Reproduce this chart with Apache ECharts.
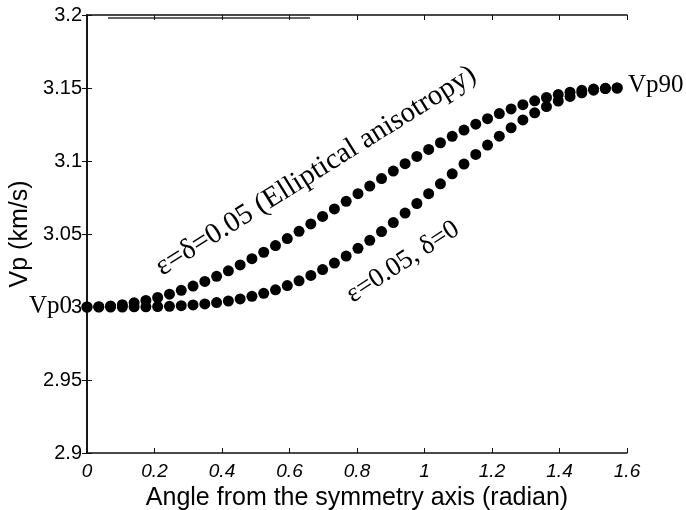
<!DOCTYPE html>
<html>
<head>
<meta charset="utf-8">
<script src="https://cdn.jsdelivr.net/npm/echarts@6/dist/echarts.min.js"></script>
<style>
  html, body { margin: 0; padding: 0; background: #fff; }
  #chart { width: 686px; height: 510px; }
</style>
</head>
<body>
<div id="chart"></div>
<script>
// Incidence angle (radian), sampled every 2 degrees from 0 to 90
const angles = [
  0, 0.0349, 0.0698, 0.1047, 0.1396, 0.1745, 0.2094, 0.2443, 0.2793, 0.3142,
  0.3491, 0.3840, 0.4189, 0.4538, 0.4887, 0.5236, 0.5585, 0.5934, 0.6283, 0.6632,
  0.6981, 0.7330, 0.7679, 0.8029, 0.8378, 0.8727, 0.9076, 0.9425, 0.9774, 1.0123,
  1.0472, 1.0821, 1.1170, 1.1519, 1.1868, 1.2217, 1.2566, 1.2915, 1.3265, 1.3614,
  1.3963, 1.4312, 1.4661, 1.5010, 1.5359, 1.5708
];

// P-wave velocity (km/s), elliptical case: epsilon = delta = 0.05
const vpElliptical = [
  3.0000, 3.0002, 3.0007, 3.0016, 3.0029, 3.0045, 3.0065, 3.0088, 3.0114, 3.0143,
  3.0175, 3.0210, 3.0248, 3.0288, 3.0331, 3.0375, 3.0421, 3.0469, 3.0518, 3.0569,
  3.0620, 3.0672, 3.0724, 3.0776, 3.0828, 3.0880, 3.0931, 3.0982, 3.1031, 3.1079,
  3.1125, 3.1169, 3.1212, 3.1252, 3.1290, 3.1325, 3.1357, 3.1386, 3.1412, 3.1435,
  3.1455, 3.1471, 3.1484, 3.1493, 3.1498, 3.1500
];

// P-wave velocity (km/s), epsilon = 0.05, delta = 0
const vpAnelliptic = [
  3.0000, 3.0000, 3.0000, 3.0000, 3.0001, 3.0001, 3.0003, 3.0005, 3.0009, 3.0014,
  3.0021, 3.0030, 3.0041, 3.0055, 3.0073, 3.0094, 3.0118, 3.0147, 3.0179, 3.0216,
  3.0256, 3.0301, 3.0349, 3.0402, 3.0457, 3.0517, 3.0578, 3.0643, 3.0709, 3.0776,
  3.0844, 3.0912, 3.0979, 3.1045, 3.1109, 3.1170, 3.1227, 3.1281, 3.1330, 3.1373,
  3.1411, 3.1442, 3.1467, 3.1485, 3.1496, 3.1500
];

// Axis tick labels
const xTickLabels = ['0', '0.2', '0.4', '0.6', '0.8', '1', '1.2', '1.4', '1.6'];
const yTickLabels = ['2.9', '2.95', '3', '3.05', '3.1', '3.15', '3.2'];

function pickLabel(list, v) {
  const hit = list.find(s => Math.abs(parseFloat(s) - v) < 1e-6);
  return hit !== undefined ? hit : '';
}

const chart = echarts.init(document.getElementById('chart'), null, { renderer: 'canvas' });

const frameLine = { show: true, lineStyle: { color: '#111', width: 1.5 } };
const innerTick = { show: true, inside: true, length: 5, lineStyle: { color: '#111', width: 1 } };

const elliptical = angles.map((a, i) => [a, vpElliptical[i]]);
const anelliptic = angles.map((a, i) => [a, vpAnelliptic[i]]);

const dotStyle = { color: '#000', opacity: 1 };

const option = {
  backgroundColor: '#fff',
  animation: false,
  grid: { left: 87, right: 59, top: 15, bottom: 57, containLabel: false, outerBoundsMode: 'none' },
  xAxis: [
    {
      type: 'value', min: 0, max: 1.6, interval: 0.2, position: 'bottom',
      axisLine: frameLine, axisTick: innerTick, splitLine: { show: false },
      axisLabel: {
        color: '#000', fontFamily: 'Liberation Sans', fontSize: 19, fontStyle: 'italic', margin: 9,
        formatter: v => pickLabel(xTickLabels, v)
      },
      name: 'Angle from the symmetry axis (radian)', nameLocation: 'middle', nameGap: 25,
      nameTextStyle: { color: '#000', fontFamily: 'Liberation Sans', fontSize: 25 }
    },
    {
      type: 'value', min: 0, max: 1.6, interval: 0.2, position: 'top',
      axisLine: frameLine, axisTick: innerTick, axisLabel: { show: false }, splitLine: { show: false }
    }
  ],
  yAxis: [
    {
      type: 'value', min: 2.9, max: 3.2, interval: 0.05, position: 'left',
      axisLine: { show: true, lineStyle: { color: '#333', width: 2 } }, axisTick: innerTick, splitLine: { show: false },
      axisLabel: {
        color: '#000', fontFamily: 'Liberation Sans', fontSize: 20, margin: 5,
        formatter: v => pickLabel(yTickLabels, v)
      },
      name: 'Vp (km/s)', nameLocation: 'middle', nameGap: 43,
      nameTextStyle: { color: '#000', fontFamily: 'Liberation Sans', fontSize: 25 }
    },
    {
      type: 'value', min: 2.9, max: 3.2, interval: 0.05, position: 'right',
      axisLine: frameLine, axisTick: innerTick, axisLabel: { show: false }, splitLine: { show: false }
    }
  ],
  series: [
    {
      name: 'elliptical', type: 'scatter', data: elliptical,
      symbol: 'circle', symbolSize: 11, itemStyle: dotStyle
    },
    {
      name: 'anelliptic', type: 'scatter', data: anelliptic,
      symbol: 'circle', symbolSize: 11, itemStyle: dotStyle
    }
  ],
  graphic: [
    // doubled segment along the top border
    { type: 'line', shape: { x1: 108, y1: 18, x2: 310, y2: 18 }, style: { stroke: '#333', lineWidth: 1.3 } },
    {
      type: 'text', x: 316, y: 171, rotation: 32 * Math.PI / 180,
      style: {
        text: 'ε=δ=0.05 (Elliptical anisotropy)', fill: '#000',
        font: '29px "Liberation Serif"', textAlign: 'center', textVerticalAlign: 'middle'
      }
    },
    {
      type: 'text', x: 403, y: 262, rotation: 33 * Math.PI / 180,
      style: {
        text: 'ε=0.05, δ=0', fill: '#000',
        font: '27px "Liberation Serif"', textAlign: 'center', textVerticalAlign: 'middle'
      }
    },
    {
      type: 'text', x: 72, y: 306,
      style: {
        text: 'Vp0', fill: '#000',
        font: '25px "Liberation Serif"', textAlign: 'right', textVerticalAlign: 'middle'
      }
    },
    {
      type: 'text', x: 628, y: 85,
      style: {
        text: 'Vp90', fill: '#000',
        font: '25px "Liberation Serif"', textAlign: 'left', textVerticalAlign: 'middle'
      }
    }
  ]
};

chart.setOption(option);
</script>
</body>
</html>
